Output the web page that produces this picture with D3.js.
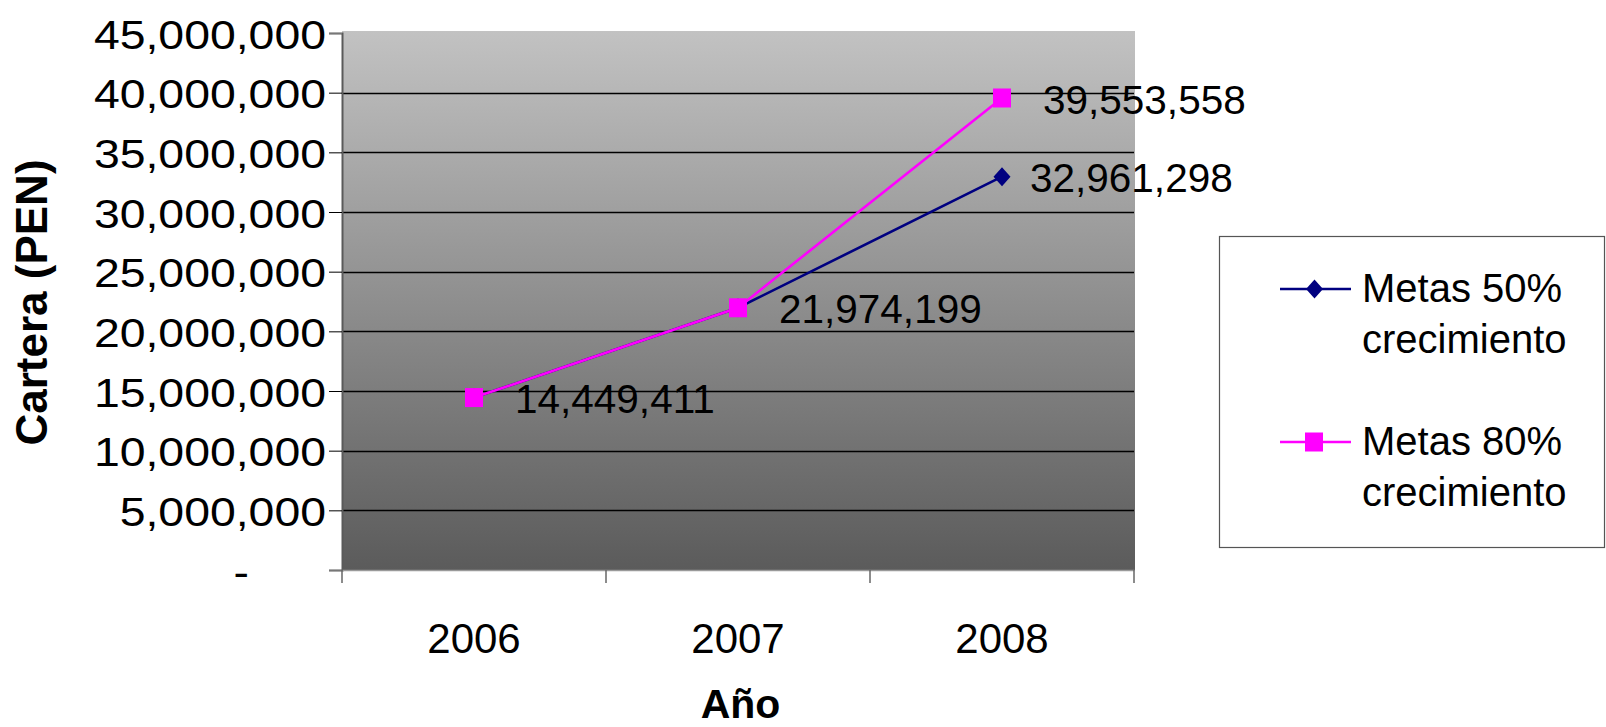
<!DOCTYPE html>
<html>
<head>
<meta charset="utf-8">
<script src="https://cdn.jsdelivr.net/npm/d3@7"></script>
<style>
    body { margin: 0; background: #fff; }
    svg text { font-family: "Liberation Sans", Arial, sans-serif; fill: #000; }
</style>
</head>
<body>
<div id="chart-container"></div>
<script>
// data
const years = ['2006', '2007', '2008'];
const meta50 = [14449411, 21974199, 32961298];
const meta80 = [14449411, 21974199, 39553558];
const seriesNames = [['Metas 50%', 'crecimiento'], ['Metas 80%', 'crecimiento']];
const yTicks = [0, 5000000, 10000000, 15000000, 20000000, 25000000, 30000000, 35000000, 40000000, 45000000];

const width = 1606, height = 727;

let svg = d3.select('#chart-container').append('svg')
    .attr('width', width)
    .attr('height', height);

// plot area
let plot = {left: 342, right: 1135, top: 31, bottom: 570};

let x = d3.scaleBand().domain(years).range([plot.left, plot.right - 1]).padding(0);
let y = d3.scaleLinear().domain([0, 45000000]).range([plot.bottom, 33]);
let cx = d => x(d) + x.bandwidth() / 2;

// background gradient
let grad = svg.append('defs').append('linearGradient')
    .attr('id', 'bg-grad')
    .attr('x1', 0).attr('y1', 0).attr('x2', 0).attr('y2', 1);
grad.append('stop').attr('offset', '0%').attr('stop-color', '#c2c2c2');
grad.append('stop').attr('offset', '100%').attr('stop-color', '#5b5b5b');

svg.append('rect')
    .attr('x', plot.left)
    .attr('y', plot.top)
    .attr('width', plot.right - plot.left)
    .attr('height', plot.bottom - plot.top)
    .attr('fill', 'url(#bg-grad)');

// gridlines
svg.selectAll('line.grid')
    .data(yTicks.filter(d => d > 0 && d < 45000000))
    .enter().append('line')
    .attr('class', 'grid')
    .attr('x1', plot.left)
    .attr('x2', plot.right - 1)
    .attr('y1', d => Math.round(y(d)) + 0.5)
    .attr('y2', d => Math.round(y(d)) + 0.5)
    .attr('stroke', '#000')
    .attr('stroke-width', 1.3);

// y axis
let fmt = d3.format(',');
let yAxis = svg.append('g')
    .attr('transform', 'translate(' + plot.left + ',0)')
    .call(d3.axisLeft(y)
        .tickValues(yTicks)
        .tickSize(13)
        .tickPadding(3)
        .tickFormat(d => d === 0 ? '-' : fmt(d)));
yAxis.select('.domain').attr('stroke', '#5a5a5a').attr('stroke-width', 2);
yAxis.selectAll('.tick line').attr('stroke', d => (d === 0 || d === 45000000) ? '#777' : '#000');
yAxis.selectAll('.tick text')
    .attr('font-size', 40)
    .attr('font-family', '"Liberation Sans", Arial, sans-serif')
    .attr('fill', '#000')
    .attr('dy', '0.38em')
    .attr('transform', function (d) {
        let xx = d === 0 ? -93 : -16;
        return 'translate(' + xx + ',0) scale(1.16,1)';
    })
    .attr('x', 0);

// x axis
let xAxis = svg.append('g')
    .attr('transform', 'translate(0,' + plot.bottom + ')')
    .call(d3.axisBottom(x).tickSize(0).tickPadding(50));
xAxis.select('.domain').attr('stroke', '#9a9a9a').attr('stroke-width', 1.5);
xAxis.selectAll('.tick text')
    .attr('font-size', 42)
    .attr('font-family', '"Liberation Sans", Arial, sans-serif')
    .attr('fill', '#000')
    .attr('dy', '0.38em')
    .attr('y', 67);

// tick marks between categories
let edges = years.map(d => x(d)).concat([x(years[years.length - 1]) + x.bandwidth()]);
svg.selectAll('line.xtick')
    .data(edges)
    .enter().append('line')
    .attr('class', 'xtick')
    .attr('x1', d => d).attr('x2', d => d)
    .attr('y1', plot.bottom).attr('y2', plot.bottom + 13)
    .attr('stroke', '#666').attr('stroke-width', 1.5);

// axis titles
svg.append('text')
    .attr('transform', 'translate(47,' + ((plot.top + plot.bottom) / 2 + 2) + ') rotate(-90)')
    .attr('text-anchor', 'middle')
    .attr('font-size', 44)
    .attr('font-weight', 'bold')
    .text('Cartera (PEN)');

svg.append('text')
    .attr('x', (plot.left + plot.right) / 2 + 2)
    .attr('y', 718)
    .attr('text-anchor', 'middle')
    .attr('font-size', 41)
    .attr('font-weight', 'bold')
    .text('Año');

// series
let series = [
    {name: seriesNames[0], values: meta50, color: '#000080', marker: 'diamond'},
    {name: seriesNames[1], values: meta80, color: '#ff00ff', marker: 'square'}
];

let diamond = function (g, px, py, color) {
    g.append('path')
        .attr('d', 'M' + px + ',' + (py - 9.5) + 'L' + (px + 8.5) + ',' + py + 'L' + px + ',' + (py + 9.5) + 'L' + (px - 8.5) + ',' + py + 'Z')
        .attr('fill', color);
};
let square = function (g, px, py, color) {
    g.append('rect')
        .attr('x', px - 9).attr('y', py - 9.5)
        .attr('width', 18).attr('height', 19)
        .attr('fill', color);
};

let line = d3.line()
    .x((d, i) => cx(years[i]))
    .y(d => y(d));

series.forEach(function (s) {
    svg.append('path')
        .datum(s.values)
        .attr('d', line)
        .attr('fill', 'none')
        .attr('stroke', s.color)
        .attr('stroke-width', 2.6);
});
series.forEach(function (s) {
    let g = svg.append('g');
    s.values.forEach(function (v, i) {
        if (s.marker === 'diamond') diamond(g, cx(years[i]), y(v), s.color);
        else square(g, cx(years[i]), y(v), s.color);
    });
});

// data labels (second series only where it differs)
let labels = [];
meta50.forEach((v, i) => labels.push({year: years[i], value: v, dx: i === 2 ? 28 : 41}));
meta80.forEach((v, i) => { if (v !== meta50[i]) labels.push({year: years[i], value: v, dx: 41}); });

svg.selectAll('text.dlabel')
    .data(labels)
    .enter().append('text')
    .attr('class', 'dlabel')
    .attr('x', d => cx(d.year) + d.dx)
    .attr('y', d => y(d.value) + 1)
    .attr('dy', '0.36em')
    .attr('font-size', 40.5)
    .text(d => fmt(d.value));

// legend
let legend = svg.append('g');
legend.append('rect')
    .attr('x', 1219.5).attr('y', 236.5)
    .attr('width', 385).attr('height', 311)
    .attr('fill', '#fff')
    .attr('stroke', '#555')
    .attr('stroke-width', 1.2);

series.forEach(function (s, i) {
    let ly = 289 + i * 153;
    legend.append('line')
        .attr('x1', 1280).attr('x2', 1351)
        .attr('y1', ly).attr('y2', ly)
        .attr('stroke', s.color).attr('stroke-width', 2.6);
    if (s.marker === 'diamond') diamond(legend, 1314.5, ly, s.color);
    else square(legend, 1314, ly, s.color);
    s.name.forEach(function (t, j) {
        legend.append('text')
            .attr('x', 1362)
            .attr('y', ly + 13 + j * 51)
            .attr('font-size', 40)
            .text(t);
    });
});
</script>
</body>
</html>
